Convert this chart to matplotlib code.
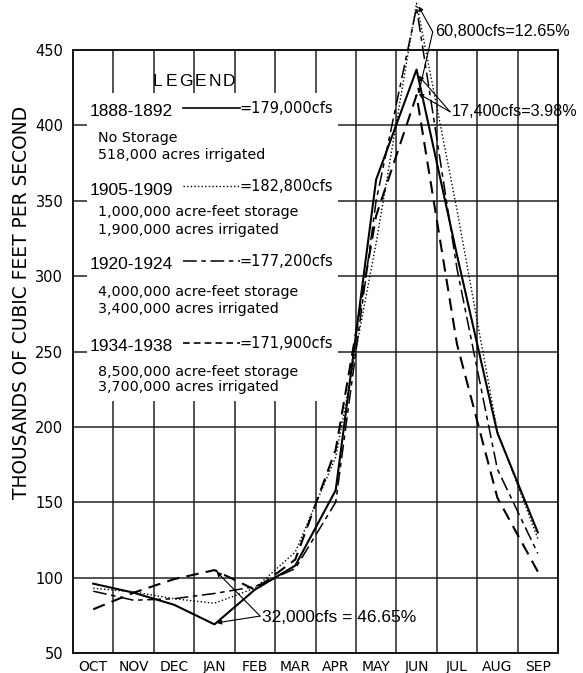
import matplotlib
matplotlib.use('Agg')
import matplotlib.pyplot as plt
from matplotlib.patches import Rectangle

months = ['OCT', 'NOV', 'DEC', 'JAN', 'FEB', 'MAR', 'APR', 'MAY', 'JUN', 'JUL', 'AUG', 'SEP']
flow_1888_1892 = [96, 90, 82, 69, 92, 108, 158, 364, 437, 314, 196, 130]
flow_1905_1909 = [93, 90.5, 86, 83, 93, 117, 180, 322, 481, 344, 197, 126]
flow_1920_1924 = [91, 85, 86, 89.5, 94, 106, 150, 350, 478, 305, 172, 116]
flow_1934_1938 = [79, 90, 99, 105, 92, 112, 185, 340, 420, 255, 153, 104]
yticks = [50, 100, 150, 200, 250, 300, 350, 400, 450]

LF = ['Liberation Sans', 'DejaVu Sans']
DF = ['DejaVu Sans']

fig = plt.figure(figsize=(5.83, 6.73), dpi=100)
ax = fig.add_axes([73/583, 20/673, 485/583, 603/673])
ax.set_xlim(0, 12)
ax.set_ylim(50, 450)

x = [i + 0.5 for i in range(len(months))]

# grid
gc = '#222222'
for i in range(1, 12):
    ax.axvline(i, color=gc, lw=1.1, zorder=1)
for v in yticks[1:-1]:
    ax.axhline(v, color=gc, lw=1.1, zorder=1)
# legend mask
ax.add_patch(Rectangle((0.35, 217), 6.2, 204.5, facecolor='white', edgecolor='none', zorder=2))

for s in ax.spines.values():
    s.set_linewidth(1.4)
    s.set_color('#111111')

ax.set_xticks(x)
ax.set_xticklabels(months, fontsize=10, family=DF)
ax.set_yticks(yticks)
ax.set_yticklabels([str(v) for v in yticks], fontsize=10.5, family=DF)
ax.tick_params(length=0, pad=7)
ax.tick_params(axis='x', pad=5)

k = 'black'
ax.plot(x, flow_1888_1892, color=k, lw=1.5, zorder=5, clip_on=False)
ax.plot(x, flow_1905_1909, color=k, lw=1.0, ls=(0, (1, 1.6)), zorder=5, clip_on=False)
ax.plot(x, flow_1920_1924, color=k, lw=1.1, ls=(0, (9, 3, 3, 3)), zorder=5, clip_on=False)
ax.plot(x, flow_1934_1938, color=k, lw=1.5, ls=(0, (6, 3.5)), zorder=5, clip_on=False)

# legend block
for j, ch in enumerate('LEGEND'):
    ax.text(2.09 + j * 0.355, 428.8, ch, ha='center', va='center', fontsize=12.5, family=LF, zorder=6)
periods = ['1888-1892', '1905-1909', '1920-1924', '1934-1938']
totals = ['=179,000cfs', '=182,800cfs', '=177,200cfs', '=171,900cfs']
descs = [['No Storage', '518,000 acres irrigated'],
         ['1,000,000 acre-feet storage', '1,900,000 acres irrigated'],
         ['4,000,000 acre-feet storage', '3,400,000 acres irrigated'],
         ['8,500,000 acre-feet storage', '3,700,000 acres irrigated']]
period_y = [408.9, 357.1, 307.4, 253.0]
desc_y = [[391.6, 380.3], [342.5, 330.6], [289.5, 278.2], [236.4, 226.5]]
styles = [dict(lw=1.2, ls='-'), dict(lw=1.0, ls=(0, (1, 1.6))),
          dict(lw=1.1, ls=(0, (9, 3, 3, 3))), dict(lw=1.2, ls=(0, (4, 2.5)))]
for label, yv, st, total, desc, dys in zip(periods, period_y, styles, totals, descs, desc_y):
    ax.text(0.40, yv, label, ha='left', va='center', fontsize=12.5, family=LF, zorder=6)
    ax.plot([2.72, 4.13], [yv + 2.5, yv + 2.5], color=k, zorder=6, **st)
    ax.text(4.13, yv + 2.5, total, ha='left', va='center', fontsize=10.5, family=DF, zorder=6)
    for d, dy in zip(desc, dys):
        ax.text(0.62, dy, d, ha='left', va='center', fontsize=10.3, family=DF, zorder=6)

# annotations
ap = dict(arrowstyle='-|>', lw=0.8, color=k, mutation_scale=7, shrinkA=0, shrinkB=0)
ax.text(4.68, 73.5, '32,000cfs = 46.65%', ha='left', va='center', fontsize=12.5, family=LF, zorder=6)
for ty in (104, 70):
    ax.annotate('', xy=(3.55, ty), xytext=(4.63, 74.5), arrowprops=ap, zorder=6)

ax.text(8.95, 462, '60,800cfs=12.65%', ha='left', va='center', fontsize=11.6, family=LF, zorder=6, clip_on=False)
for ty in (479, 421):
    ax.annotate('', xy=(8.55, ty), xytext=(8.9, 462), arrowprops=ap, zorder=6, annotation_clip=False)

ax.text(9.38, 409, '17,400cfs=3.98%', ha='left', va='center', fontsize=11.6, family=LF, zorder=6, clip_on=False)
for ty in (433, 421):
    ax.annotate('', xy=(8.55, ty), xytext=(9.33, 409), arrowprops=ap, zorder=6, annotation_clip=False)

fig.text(22/583, 1 - 302/673, 'THOUSANDS OF CUBIC FEET PER SECOND', rotation=90,
         ha='center', va='center', fontsize=13.4, family=DF)

fig.savefig('out.png', dpi=100)
